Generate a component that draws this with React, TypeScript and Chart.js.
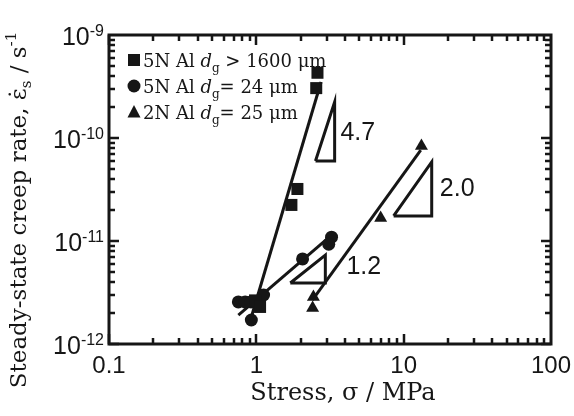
import React, { useEffect, useRef } from 'react';
import { Chart, registerables } from 'chart.js';

Chart.register(...registerables);

// ---- data (stress in MPa, steady-state creep rate in 1/s) ----
const squareStress = [2.6, 2.55, 1.9, 1.73, 0.98, 1.06];
const squareRate = [4.3e-10, 3.05e-10, 3.2e-11, 2.24e-11, 2.65e-12, 2.29e-12];

const circleStress = [3.24, 3.1, 2.06, 0.755, 0.84, 0.92, 1.12, 0.925];
const circleRate = [1.09e-11, 9.3e-12, 6.7e-12, 2.56e-12, 2.56e-12, 2.56e-12, 2.99e-12, 1.71e-12];

const triStress = [13.2, 6.98, 2.44, 2.41];
const triRate = [8.35e-11, 1.67e-11, 2.86e-12, 2.24e-12];

// fitted lines
const squareFitStress = [0.925, 2.75];
const squareFitRate = [1.83e-12, 3.5e-10];
const circleFitStress = [0.755, 3.24];
const circleFitRate = [1.91e-12, 1.14e-11];
const triFitStress = [2.4, 13.06];
const triFitRate = [2.67e-12, 7.64e-11];

// slope triangles
const slope47Stress = [2.52, 3.4, 3.4, 2.52];
const slope47Rate = [5.98e-11, 5.98e-11, 2.24e-10, 5.98e-11];
const slope12Stress = [1.7, 2.94, 2.94, 1.7];
const slope12Rate = [3.91e-12, 3.91e-12, 7.31e-12, 3.91e-12];
const slope20Stress = [8.55, 15.5, 15.5, 8.55];
const slope20Rate = [1.75e-11, 1.75e-11, 5.85e-11, 1.75e-11];

const slopeLabels = ['4.7', '1.2', '2.0'];
const slopeLabelStress = [3.72, 4.09, 17.6];
const slopeLabelRate = [1.12e-10, 5.6e-12, 3.2e-11];

// legend
const legendPrefix = ['5N Al ', '5N Al ', '2N Al '];
const legendSuffix = [' > 1600 \u03bcm', '= 24 \u03bcm', '= 25 \u03bcm'];
const legendStyles = ['rect', 'circle', 'triangle'];

// axes
const xTickExponents = [-1, 0, 1, 2];
const xTickLabels = ['0.1', '1', '10', '100'];
const yTickExponents = [-12, -11, -10, -9];
const xTitle = 'Stress, \u03c3 / MPa';

const INK = '#161616';
const SERIF = '"DejaVu Serif", serif';
const SANS = '"Liberation Sans", Arial, sans-serif';

const pts = (xs: number[], ys: number[]) => xs.map((x, i) => ({ x, y: ys[i] }));

type Seg = { t: string; font: string; dy?: number };

function drawRich(ctx: CanvasRenderingContext2D, segs: Seg[], x: number, y: number) {
  let cx = x;
  for (const s of segs) {
    ctx.font = s.font;
    ctx.fillText(s.t, cx, y + (s.dy || 0));
    cx += ctx.measureText(s.t).width;
  }
  return cx;
}
function measureRich(ctx: CanvasRenderingContext2D, segs: Seg[]) {
  let w = 0;
  for (const s of segs) {
    ctx.font = s.font;
    w += ctx.measureText(s.t).width;
  }
  return w;
}

function drawMarker(ctx: CanvasRenderingContext2D, style: string, x: number, y: number) {
  ctx.beginPath();
  if (style === 'rect') {
    ctx.rect(x - 6, y - 6, 12, 12);
  } else if (style === 'circle') {
    ctx.arc(x, y, 6.5, 0, Math.PI * 2);
  } else {
    ctx.moveTo(x, y - 7);
    ctx.lineTo(x + 6.5, y + 5.5);
    ctx.lineTo(x - 6.5, y + 5.5);
    ctx.closePath();
  }
  ctx.fill();
}

const decorPlugin = {
  id: 'decor',
  beforeDatasetsDraw(chart: any) {
    const ctx: CanvasRenderingContext2D = chart.ctx;
    const { left, top } = chart.chartArea;
    const xs = chart.scales.x;
    const ys = chart.scales.y;
    ctx.save();
    ctx.fillStyle = INK;
    // legend
    const f = `18px ${SERIF}`;
    const fi = `italic 18px ${SERIF}`;
    const fs = `12px ${SERIF}`;
    for (let i = 0; i < legendPrefix.length; i++) {
      const cy = top + 25 + i * 26;
      drawMarker(ctx, legendStyles[i], left + 25, cy);
      ctx.textBaseline = 'alphabetic';
      ctx.textAlign = 'left';
      drawRich(
        ctx,
        [
          { t: legendPrefix[i], font: f },
          { t: 'd', font: fi },
          { t: 'g', font: fs, dy: 5 },
          { t: legendSuffix[i], font: f },
        ],
        left + 34,
        cy + 7
      );
    }
    // slope labels
    ctx.font = `25px ${SANS}`;
    ctx.textBaseline = 'middle';
    ctx.textAlign = 'left';
    for (let i = 0; i < slopeLabels.length; i++) {
      ctx.fillText(slopeLabels[i], xs.getPixelForValue(slopeLabelStress[i]), ys.getPixelForValue(slopeLabelRate[i]));
    }
    ctx.restore();
  },
  afterDraw(chart: any) {
    const ctx: CanvasRenderingContext2D = chart.ctx;
    const { left, right, top, bottom } = chart.chartArea;
    const xs = chart.scales.x;
    const ys = chart.scales.y;
    ctx.save();
    ctx.strokeStyle = INK;
    ctx.fillStyle = INK;
    // ticks (inward, mirrored)
    ctx.lineWidth = 2.5;
    ctx.beginPath();
    for (let e = -1; e <= 1; e++) {
      for (let k = 1; k <= 9; k++) {
        const px = Math.round(xs.getPixelForValue(k * Math.pow(10, e)));
        const len = k === 1 ? 10 : 6;
        ctx.moveTo(px, bottom);
        ctx.lineTo(px, bottom - len);
        ctx.moveTo(px, top);
        ctx.lineTo(px, top + len);
      }
    }
    for (let e = -12; e <= -10; e++) {
      for (let k = 1; k <= 9; k++) {
        const py = Math.round(ys.getPixelForValue(k * Math.pow(10, e)));
        const len = k === 1 ? 10 : 6;
        ctx.moveTo(left, py);
        ctx.lineTo(left + len, py);
        ctx.moveTo(right, py);
        ctx.lineTo(right - len, py);
      }
    }
    ctx.stroke();
    // frame
    ctx.lineWidth = 3;
    ctx.strokeRect(left, top, right - left, bottom - top);

    // y tick labels with superscripts
    ctx.textBaseline = 'alphabetic';
    ctx.textAlign = 'left';
    for (const e of yTickExponents) {
      const py = ys.getPixelForValue(Math.pow(10, e));
      const segs: Seg[] = [
        { t: '10', font: `25px ${SANS}` },
        { t: `-${Math.abs(e)}`, font: `16px ${SANS}`, dy: -9 },
      ];
      const w = measureRich(ctx, segs);
      drawRich(ctx, segs, left - 5 - w, py + 10);
    }

    // x title
    ctx.textAlign = 'center';
    ctx.textBaseline = 'middle';
    ctx.font = `24px ${SERIF}`;
    ctx.fillText(xTitle, 343, 394);

    // y title (rotated)
    const F = `23px ${SERIF}`;
    const Fs = `15px ${SERIF}`;
    const segsT: Seg[] = [
      { t: 'Steady-state creep rate, ', font: F },
      { t: '\u03b5', font: F },
      { t: 's', font: Fs, dy: 5 },
      { t: ' / s', font: F },
      { t: '-1', font: Fs, dy: -10 },
    ];
    ctx.translate(26, 210);
    ctx.rotate(-Math.PI / 2);
    ctx.textAlign = 'left';
    ctx.textBaseline = 'alphabetic';
    const W = measureRich(ctx, segsT);
    const x0 = -W / 2;
    drawRich(ctx, segsT, x0, 0);
    // dot over epsilon
    ctx.font = F;
    const wPre = ctx.measureText(segsT[0].t).width;
    const wEps = ctx.measureText('\u03b5').width;
    ctx.textAlign = 'center';
    ctx.fillText('\u02d9', x0 + wPre + wEps / 2, 0);
    ctx.restore();
  },
};

export default function App() {
  const ref = useRef<HTMLCanvasElement>(null);
  useEffect(() => {
    const canvas = ref.current!;
    const markerDs = (label: string, xs: number[], ys: number[], style: string, r: number) => ({
      label,
      data: pts(xs, ys),
      pointStyle: style,
      pointRadius: r,
      pointHoverRadius: r,
      pointBackgroundColor: INK,
      pointBorderColor: INK,
      pointBorderWidth: 0,
      showLine: false,
      order: 0,
    });
    const lineDs = (label: string, xs: number[], ys: number[]) => ({
      label,
      data: pts(xs, ys),
      showLine: true,
      pointRadius: 0,
      borderColor: INK,
      borderWidth: 3,
      borderJoinStyle: 'miter',
      fill: false,
      tension: 0,
      order: 1,
    });
    const chart = new Chart(canvas, {
      type: 'scatter',
      data: {
        datasets: [
          markerDs('5N Al dg > 1600 μm', squareStress, squareRate, 'rect', 8.5),
          markerDs('5N Al dg = 24 μm', circleStress, circleRate, 'circle', 6.5),
          markerDs('2N Al dg = 25 μm', triStress, triRate, 'triangle', 7.5),
          lineDs('fit 5N coarse', squareFitStress, squareFitRate),
          lineDs('fit 5N fine', circleFitStress, circleFitRate),
          lineDs('fit 2N', triFitStress, triFitRate),
          lineDs('slope 4.7', slope47Stress, slope47Rate),
          lineDs('slope 1.2', slope12Stress, slope12Rate),
          lineDs('slope 2.0', slope20Stress, slope20Rate),
        ] as any,
      },
      options: {
        responsive: false,
        animation: false,
        devicePixelRatio: 1,
        layout: { padding: { top: 35, right: 23, left: 0, bottom: 0 } },
        plugins: { legend: { display: false }, tooltip: { enabled: false } },
        scales: {
          x: {
            type: 'logarithmic',
            min: 0.1,
            max: 100,
            grid: { display: false, drawTicks: false },
            border: { display: false },
            ticks: {
              autoSkip: false,
              maxRotation: 0,
              padding: 8,
              color: INK,
              font: { family: SANS, size: 24 },
              callback: (v: any) => {
                const lg = Math.log10(Number(v));
                const r = Math.round(lg);
                if (Math.abs(lg - r) > 1e-6) return '';
                const i = xTickExponents.indexOf(r);
                return i >= 0 ? xTickLabels[i] : '';
              },
            },
            afterFit: (s: any) => {
              s.height = 72;
              s.paddingLeft = 0;
              s.paddingRight = 0;
            },
          },
          y: {
            type: 'logarithmic',
            min: 1e-12,
            max: 1e-9,
            grid: { display: false, drawTicks: false },
            border: { display: false },
            ticks: { display: false },
            afterFit: (s: any) => {
              s.width = 109;
              s.paddingTop = 0;
              s.paddingBottom = 0;
            },
          },
        },
      } as any,
      plugins: [decorPlugin],
    });
    return () => chart.destroy();
  }, []);
  return (
    <div style={{ position: 'absolute', left: 0, top: 0, width: 574, height: 416, background: '#fff' }}>
      <canvas ref={ref} width={574} height={416} style={{ display: 'block' }} />
    </div>
  );
}
